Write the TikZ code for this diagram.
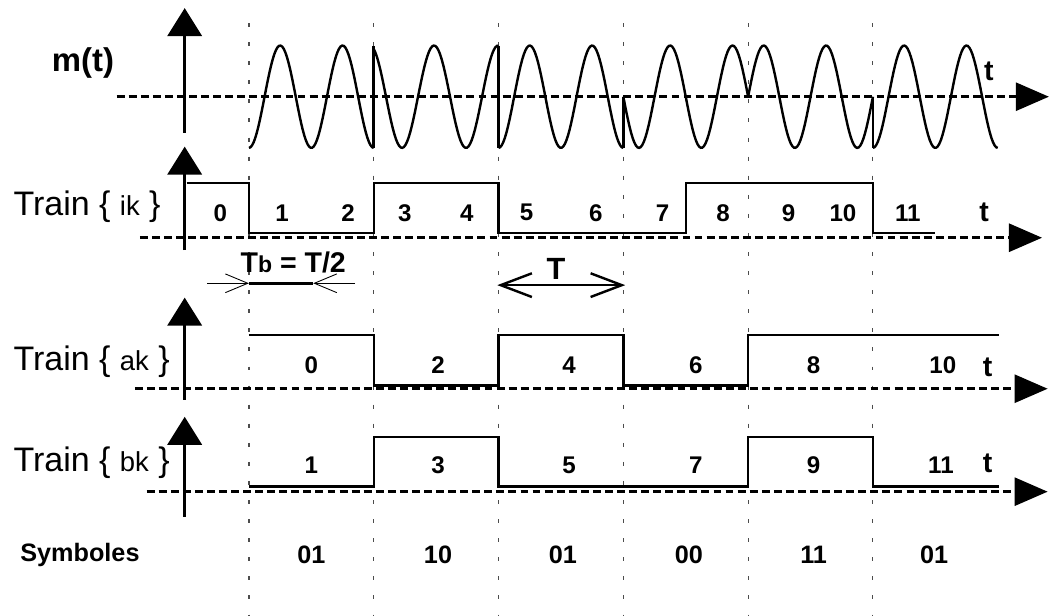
\documentclass[tikz,border=0pt]{standalone}
\usepackage{fontspec}
\setmainfont{Liberation Sans}
\usetikzlibrary{arrows.meta}

\newcommand{\idx}[1]{{\fontsize{12.5}{14}\selectfont #1}}

\begin{document}
\begin{tikzpicture}[
    guide/.style={line width=0.5pt,black!70,dash pattern=on 1.8pt off 6.9pt},
    taxis/.style={line width=1.2pt,dash pattern=on 3.6pt off 1.9pt,-{Triangle[length=0.53cm,width=0.45cm]}},
    vaxis/.style={line width=1.4pt,-{Triangle[length=0.45cm,width=0.55cm]}},
    signal/.style={line width=1.1pt},
    train/.style={anchor=west,inner sep=0pt,font=\fontsize{15.5}{17}\selectfont},
    bit/.style={inner sep=0pt,font=\fontsize{11}{13}\selectfont\bfseries},
    tlab/.style={inner sep=0pt,font=\fontsize{13}{15}\selectfont\bfseries}]
\useasboundingbox (-3.99,0) rectangle (12.87,9.87);

% time marks, one per symbol
\foreach \x in {0,2,...,10} \draw[guide] (\x,9.5) -- (\x,0);

% axes
\draw[taxis] (-2.12,8.32) -- (12.82,8.32);
\draw[taxis] (-1.75,6.06) -- (12.71,6.06);
\draw[taxis] (-1.83,3.64) -- (12.80,3.64);
\draw[taxis] (-1.64,1.99) -- (12.80,1.99);
\draw[vaxis] (-1.03,7.74) -- (-1.03,9.74);
\draw[vaxis] (-1.03,5.86) -- (-1.03,7.52);
\draw[vaxis] (-1.03,3.46) -- (-1.03,5.10);
\draw[vaxis] (-1.03,1.59) -- (-1.03,3.19);

% modulated signal, one piece per symbol
\foreach \a/\b/\s/\p/\w in {0/2/-0.82/0/1, 2/4/0.82/1.94/1.026, 4/6/-0.82/4/1,
                            6/8/-0.82/6.25/1, 8/10/0.82/8.25/1, 10/12/-0.82/10/1}
  \draw[signal] plot[domain=\a:\b,samples=80] (\x,{8.32+\s*cos(360*(\x-\p)/\w)});
\draw[line width=1.3pt] (2,7.50) -- (2,9.14);
\draw[line width=1.3pt] (4,9.14) -- (4,7.50);
\draw[line width=1.3pt] (6,8.32) -- (6,7.50);
\draw[line width=1.3pt] (10,8.32) -- (10,7.50);

% the three trains
\draw[signal] (-1.0,6.94) -- (0,6.94) -- (0,6.14) -- (2,6.14) -- (2,6.94) -- (4,6.94)
   -- (4,6.14) -- (7,6.14) -- (7,6.94) -- (10,6.94) -- (10,6.14) -- (11,6.14);
\draw[signal] (0,4.50) -- (2,4.50) -- (2,3.69) -- (4,3.69) -- (4,4.50) -- (6,4.50)
   -- (6,3.69) -- (8,3.69) -- (8,4.50) -- (12.02,4.50);
\draw[signal] (0,2.07) -- (2,2.07) -- (2,2.87) -- (4,2.87) -- (4,2.07) -- (8,2.07)
   -- (8,2.87) -- (10,2.87) -- (10,2.07) -- (12.02,2.07);

% durations
\draw[line width=0.4pt,-{Straight Barb[length=0.36cm,width=0.3cm]}] (-0.67,5.33) -- (0,5.33);
\draw[line width=0.4pt,-{Straight Barb[length=0.36cm,width=0.3cm]}] (1.70,5.33) -- (1.03,5.33);
\draw[line width=1.3pt] (0,5.33) -- (1.03,5.33);
\draw[line width=1.1pt,{Straight Barb[length=0.5cm,width=0.38cm]}-{Straight Barb[length=0.5cm,width=0.38cm]}] (3.98,5.30) -- (6.03,5.30);

% labels
\node[inner sep=0pt,font=\fontsize{15}{17}\selectfont\bfseries] (mlbl) at (-2.66,8.86) {m(t)};
\node[train] (ilbl) at (-3.78,6.55) {Train \{ \idx{ik} \}};
\node[train] (albl) at (-3.78,4.07) {Train \{ \idx{ak} \}};
\node[train] (blbl) at (-3.78,2.45) {Train \{ \idx{bk} \}};
\node[anchor=west,inner sep=0pt,font=\fontsize{11.5}{13}\selectfont\bfseries] (symlbl) at (-3.67,0.98) {Symboles};
\node[inner sep=0pt,font=\fontsize{13}{15}\selectfont\bfseries] (tblbl) at (0.71,5.67) {T{\fontsize{10.5}{12}\selectfont b} = T/2};
\node[inner sep=0pt,font=\fontsize{14}{16}\selectfont\bfseries] (Tlbl) at (4.92,5.56) {T};
\node[tlab] (tm) at (11.86,8.72) {t};
\node[tlab] (ti) at (11.78,6.46) {t};
\node[tlab] (ta) at (11.84,3.99) {t};
\node[tlab] (tb) at (11.84,2.45) {t};

\foreach \x/\n in {-0.46/0, 0.53/1, 1.59/2, 2.5/3, 3.49/4, 4.45/5, 5.56/6,
                   6.63/7, 7.6/8, 8.65/9, 9.52/10, 10.56/11}
  \node[bit] (i\n) at (\x,6.46) {\n};
\foreach \x/\n in {1.0/0, 3.03/2, 5.13/4, 7.16/6, 9.05/8, 11.12/10}
  \node[bit] (a\n) at (\x,4.02) {\n};
\foreach \x/\n in {1.0/1, 3.03/3, 5.13/5, 7.16/7, 9.05/9, 11.09/11}
  \node[bit] (b\n) at (\x,2.42) {\n};
\foreach \x/\c [count=\k] in {1.0/01, 3.03/10, 5.03/01, 7.05/00, 9.05/11, 10.98/01}
  \node[inner sep=0pt,font=\fontsize{11.5}{13}\selectfont\bfseries] (s\k) at (\x,0.98) {\c};
\end{tikzpicture}
\end{document}
